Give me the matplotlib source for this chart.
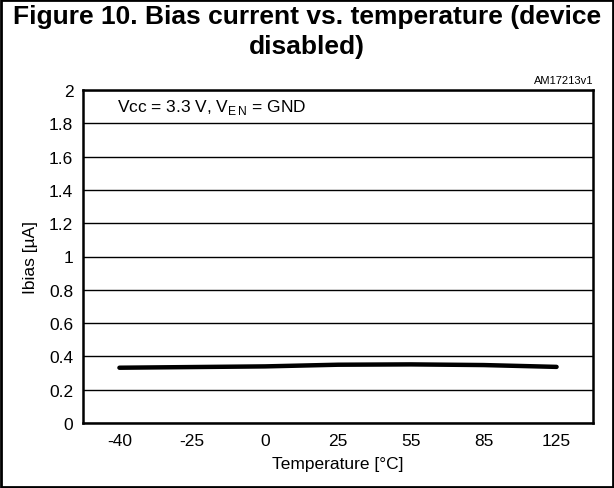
import matplotlib.pyplot as plt
from matplotlib.patches import Rectangle

plt.rcParams['font.family'] = ['Liberation Sans', 'DejaVu Sans']

temps = ['-40', '-25', '0', '25', '55', '85', '125']
ibias = [0.332, 0.336, 0.340, 0.350, 0.352, 0.348, 0.337]
yticks = [0, 0.2, 0.4, 0.6, 0.8, 1, 1.2, 1.4, 1.6, 1.8, 2]

W, H = 614, 489
fig = plt.figure(figsize=(W / 100, H / 100), dpi=100)

# plot area in pixels: left 83, right 593, top 91, bottom 424
ax = fig.add_axes([83 / W, 1 - 424 / H, (593 - 83) / W, (424 - 91) / H])

x = list(range(len(temps)))
ax.plot(x, ibias, color='black', lw=3.2, solid_capstyle='round')

ax.set_xlim(-0.5, len(temps) - 0.5)
ax.set_ylim(0, 2)
ax.set_xticks(x)
ax.set_xticklabels(temps)
ax.set_yticks(yticks)
ax.set_yticklabels(['0', '0.2', '0.4', '0.6', '0.8', '1', '1.2', '1.4', '1.6', '1.8', '2'])
ax.tick_params(length=0, labelsize=12.5, pad=7)
ax.yaxis.grid(True, color='black', lw=1.0)
ax.set_axisbelow(True)
for s in ax.spines.values():
    s.set_linewidth(1.8)

ax.set_xlabel('Temperature [°C]', fontsize=12.5, labelpad=6)
ax.set_ylabel('Ibias [µA]', fontsize=12.5, labelpad=8)

ax.text(0.066, 0.95, 'Vcc = 3.3 V, V$_{\\mathregular{E\\,N}}$ = GND', transform=ax.transAxes,
        fontsize=12.5, va='center', ha='left',
        bbox=dict(facecolor='white', edgecolor='none', pad=2))

fig.text(0.5, 1 - 17 / H, 'Figure 10. Bias current vs. temperature (device',
         ha='center', va='center', fontsize=19, fontweight='bold')
fig.text(0.5, 1 - 47 / H, 'disabled)', ha='center', va='center',
         fontsize=19, fontweight='bold')
fig.text(593 / W, 1 - 81 / H, 'AM17213v1', ha='right', va='center', fontsize=8)

fig.patches.append(Rectangle((0.002, 0.002), 0.996, 0.996, transform=fig.transFigure,
                             fill=False, edgecolor='black', lw=2))

fig.savefig('out.png', dpi=100)
